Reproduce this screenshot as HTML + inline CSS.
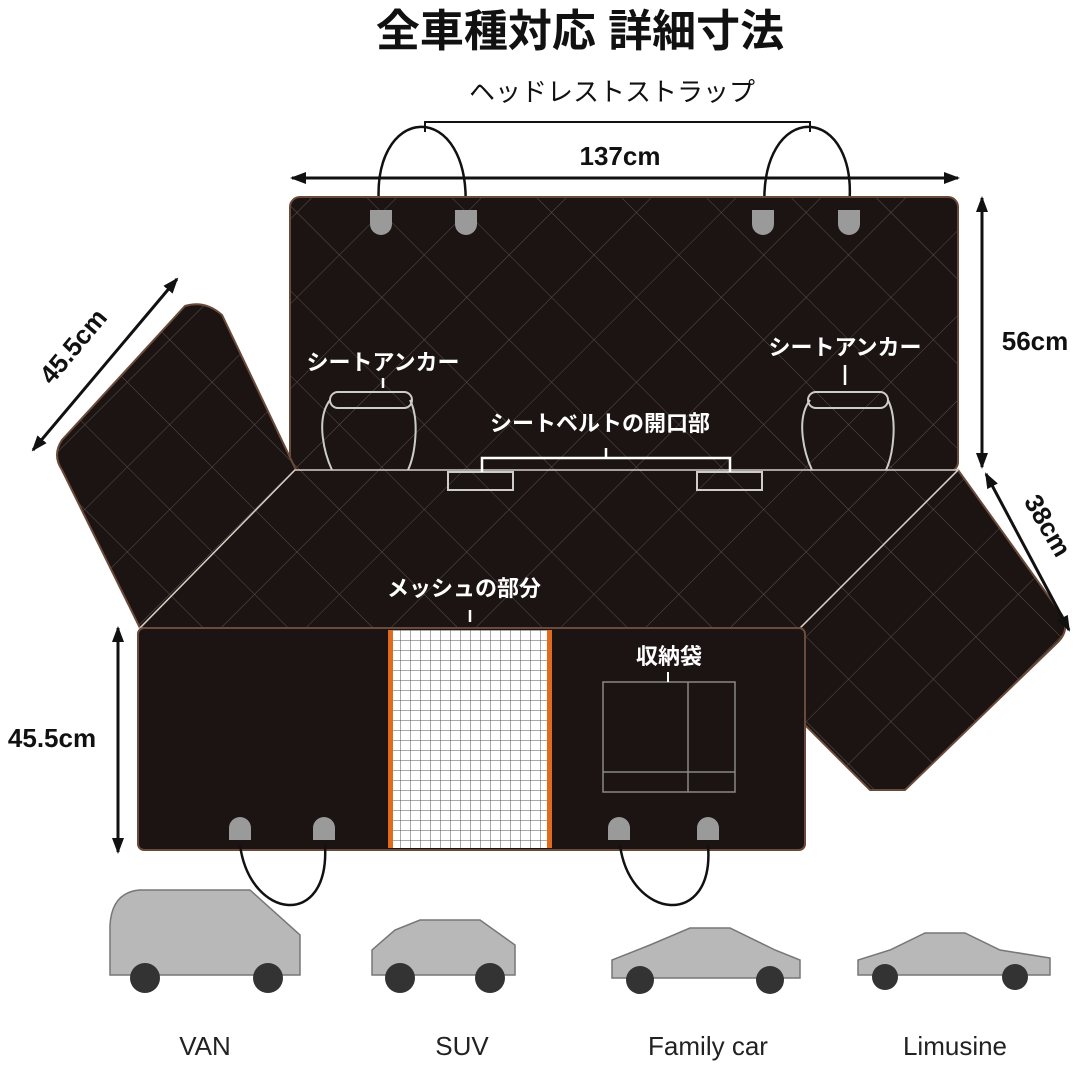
<!DOCTYPE html>
<html><head><meta charset="utf-8"><style>
html,body{margin:0;padding:0;background:#fff;}
svg{display:block;}
text{font-family:"Liberation Sans","Noto Sans CJK JP",sans-serif;}
</style></head><body>
<svg width="1080" height="1070" viewBox="0 0 1080 1070" xmlns="http://www.w3.org/2000/svg">
<defs>
<pattern id="q" width="60" height="60" patternUnits="userSpaceOnUse" patternTransform="rotate(45)">
<rect width="60" height="60" fill="#1c1412"/>
<path d="M0 0H60M0 0V60" stroke="#5a504c" stroke-width="1"/>
</pattern>
<pattern id="g" width="10" height="10" patternUnits="userSpaceOnUse">
<rect width="10" height="10" fill="#fff"/>
<path d="M0 0H10M0 0V10" stroke="#555" stroke-width="1"/>
</pattern>
<marker id="a" markerUnits="userSpaceOnUse" markerWidth="16" markerHeight="14" refX="14" refY="7" orient="auto-start-reverse"><path d="M0 1L16 7L0 13Z" fill="#111"/></marker>
</defs>
<text x="580" y="46" text-anchor="middle" font-size="44" font-weight="bold" fill="#111">全車種対応 詳細寸法</text>
<text x="612" y="101" text-anchor="middle" font-size="26" fill="#111">ヘッドレストストラップ</text>
<path d="M425 132V122H810V132" fill="none" stroke="#111" stroke-width="2"/>
<text x="620" y="165" text-anchor="middle" font-size="26" font-weight="bold" fill="#111">137cm</text>
<line x1="292" y1="178" x2="958" y2="178" stroke="#111" stroke-width="3" marker-start="url(#a)" marker-end="url(#a)"/>
<path d="M380 215C365 100 475 95 465 215" fill="none" stroke="#111" stroke-width="2.5"/>
<path d="M765 215C755 95 865 100 848 215" fill="none" stroke="#111" stroke-width="2.5"/>
<rect x="290" y="197" width="668" height="275" rx="10" fill="url(#q)" stroke="#6a4a3a" stroke-width="2"/>
<path d="M185 306Q205 300 222 315L296 470L140 628L62 470Q52 455 62 440Z" fill="url(#q)" stroke="#6a4a3a" stroke-width="2"/>
<path d="M958 470L1062 615Q1070 630 1058 642L905 790L870 790L800 720V628Z" fill="url(#q)" stroke="#6a4a3a" stroke-width="2"/>
<path d="M295 470H958L800 628H140Z" fill="url(#q)" stroke="#d8cfc8" stroke-width="1.5"/>
<rect x="138" y="628" width="667" height="222" rx="6" fill="#1c1412" stroke="#6a4a3a" stroke-width="2"/>
<rect x="390" y="630" width="160" height="218" fill="url(#g)"/>
<rect x="388" y="630" width="5" height="218" fill="#e06a1e"/>
<rect x="547" y="630" width="5" height="218" fill="#e06a1e"/>
<rect x="603" y="682" width="132" height="110" fill="none" stroke="#888" stroke-width="1.5"/>
<path d="M688 682V792M603 772H735" stroke="#888" stroke-width="1.5"/>
<path d="M668 672V682" stroke="#fff" stroke-width="2"/>
<text x="669" y="664" text-anchor="middle" font-size="22" font-weight="bold" fill="#fff">収納袋</text>
<g fill="#9a9a9a">
<path d="M370 210h22v14a11 11 0 0 1-22 0z"/><path d="M455 210h22v14a11 11 0 0 1-22 0z"/>
<path d="M752 210h22v14a11 11 0 0 1-22 0z"/><path d="M838 210h22v14a11 11 0 0 1-22 0z"/>
<path d="M229 840h22v-12a11 11 0 0 0-22 0z"/><path d="M313 840h22v-12a11 11 0 0 0-22 0z"/>
<path d="M608 840h22v-12a11 11 0 0 0-22 0z"/><path d="M697 840h22v-12a11 11 0 0 0-22 0z"/>
</g>
<path d="M240 845C250 920 330 930 325 845" fill="none" stroke="#111" stroke-width="2.5"/>
<path d="M620 845C630 920 715 930 708 845" fill="none" stroke="#111" stroke-width="2.5"/>
<g fill="none" stroke="#ccc" stroke-width="2">
<path d="M330 400C315 420 325 455 332 470M410 400C420 420 415 455 408 470"/>
<rect x="330" y="392" width="82" height="16" rx="8"/>
<path d="M810 400C795 420 805 455 812 470M888 400C898 420 893 455 886 470"/>
<rect x="808" y="392" width="80" height="16" rx="8"/>
<rect x="448" y="472" width="65" height="18"/><rect x="697" y="472" width="65" height="18"/>
</g>
<path d="M482 472V458H730V472M606 458V448M845 365V385M470 610V622M383 378V388" stroke="#fff" stroke-width="2.5" fill="none"/>
<text x="383" y="370" text-anchor="middle" font-size="22" font-weight="bold" fill="#fff">シートアンカー</text>
<text x="845" y="355" text-anchor="middle" font-size="22" font-weight="bold" fill="#fff">シートアンカー</text>
<text x="600" y="431" text-anchor="middle" font-size="22" font-weight="bold" fill="#fff">シートベルトの開口部</text>
<text x="464" y="596" text-anchor="middle" font-size="22" font-weight="bold" fill="#fff">メッシュの部分</text>
<line x1="982" y1="198" x2="982" y2="467" stroke="#111" stroke-width="3" marker-start="url(#a)" marker-end="url(#a)"/>
<text x="1035" y="350" text-anchor="middle" font-size="26" font-weight="bold" fill="#111">56cm</text>
<line x1="986" y1="474" x2="1069" y2="630" stroke="#111" stroke-width="3" marker-start="url(#a)" marker-end="url(#a)"/>
<text x="1040" y="530" text-anchor="middle" font-size="26" font-weight="bold" fill="#111" transform="rotate(60 1040 530)">38cm</text>
<line x1="177" y1="279" x2="33" y2="450" stroke="#111" stroke-width="3" marker-start="url(#a)" marker-end="url(#a)"/>
<text x="80" y="352" text-anchor="middle" font-size="26" font-weight="bold" fill="#111" transform="rotate(-50 80 352)">45.5cm</text>
<line x1="118" y1="628" x2="118" y2="852" stroke="#111" stroke-width="3" marker-start="url(#a)" marker-end="url(#a)"/>
<text x="52" y="747" text-anchor="middle" font-size="26" font-weight="bold" fill="#111">45.5cm</text>
<g fill="#b8b8b8" stroke="#777" stroke-width="1.5">
<path d="M110 975V925Q112 892 140 890H250L300 935V975Z"/>
<path d="M372 975V950L395 930L420 920H480L515 945V975Z"/>
<path d="M612 978V960L650 945L690 928H730L775 950L800 960V978Z"/>
<path d="M858 975V960L890 950L925 933H965L1000 950L1050 958V975Z"/>
</g>
<g fill="#333"><circle cx="145" cy="978" r="15"/><circle cx="268" cy="978" r="15"/>
<circle cx="400" cy="978" r="15"/><circle cx="490" cy="978" r="15"/>
<circle cx="640" cy="980" r="14"/><circle cx="770" cy="980" r="14"/>
<circle cx="885" cy="977" r="13"/><circle cx="1015" cy="977" r="13"/></g>
<g font-size="26" fill="#222" text-anchor="middle">
<text x="205" y="1055">VAN</text><text x="462" y="1055">SUV</text>
<text x="708" y="1055">Family car</text><text x="955" y="1055">Limusine</text></g>
</svg>
</body></html>
